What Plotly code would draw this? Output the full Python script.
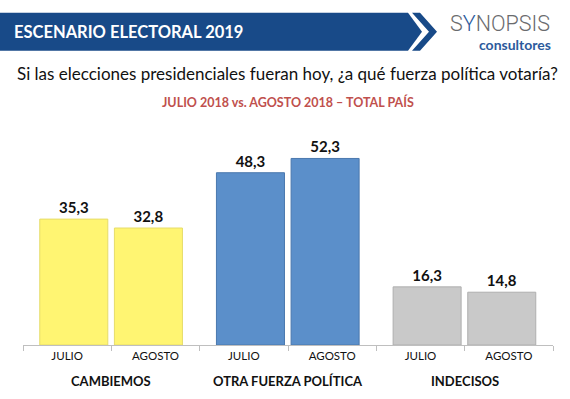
import plotly.graph_objects as go

parties = ["CAMBIEMOS", "OTRA FUERZA POLÍTICA", "INDECISOS"]
months = ["JULIO", "AGOSTO"]
julio = [35.3, 48.3, 16.3]
agosto = [32.8, 52.3, 14.8]
colors = ["#FFF572", "#5B8FCA", "#C9C9C9"]
borders = ["#E6DC6A", "#4A78AE", "#AFAFAF"]

W, H = 570, 399
L, R, T, B = 23, 17, 130.5, 54
PW, PH = W - L - R, H - T - B

def px(x):
    return (x - L) / PW

def py(y):
    return (H - B - y) / PH

FONT = "Lato"

# outer level uses blank keys; party names are drawn as centred annotations
group_keys = [" " * (i + 1) for i in range(len(parties))]

fig = go.Figure()
for vals, month, off in [(julio, months[0], -0.31), (agosto, months[1], -0.465)]:
    fig.add_trace(go.Bar(
        x=[group_keys, [month] * len(parties)],
        y=vals,
        marker=dict(color=colors, line=dict(color=borders, width=1)),
        offset=off, width=0.77,
        texttemplate="<b>%{y:.1f}</b>", textposition="outside",
        textfont=dict(family=FONT, size=15, color="#111111"),
        cliponaxis=False, showlegend=False, hoverinfo="skip",
    ))

band = "M {0},{1} L {2},{1} L {3},{4} L {2},{5} L {0},{5} Z".format(
    px(0), py(12), px(408), px(422), py(31), py(50))
chev = "M {0},{1} L {2},{1} L {3},{4} L {2},{5} L {0},{5} L {6},{4} Z".format(
    px(412), py(12), px(420), px(437), py(31), py(50), px(429))

shapes = [
    dict(type="path", path=band, xref="paper", yref="paper",
         fillcolor="#184A88", line=dict(width=0)),
    dict(type="path", path=chev, xref="paper", yref="paper",
         fillcolor="#184A88", line=dict(width=0)),
]

annotations = [
    dict(text="<b>ESCENARIO ELECTORAL 2019</b>", x=px(12), y=py(31),
         xanchor="left", yanchor="middle",
         font=dict(family=FONT, size=16.5, color="white")),
    dict(text="S<span style='color:#2C5A9C'>Y</span>NOPSIS", x=px(500), y=py(23),
         xanchor="center", yanchor="middle",
         font=dict(family="Roboto", size=21.5, color="#6A6B6E", weight=300)),
    dict(text="<b>consultores</b>", x=px(515), y=py(44),
         xanchor="center", yanchor="middle",
         font=dict(family=FONT, size=14, color="#2C5A9C")),
    dict(text="Si las elecciones presidenciales fueran hoy, ¿a qué fuerza política votaría?",
         x=px(287), y=py(73), xanchor="center", yanchor="middle",
         font=dict(family=FONT, size=17, color="#111111")),
    dict(text="<b>JULIO 2018 vs. AGOSTO 2018 – TOTAL PAÍS</b>",
         x=px(288), y=py(101), xanchor="center", yanchor="middle",
         font=dict(family=FONT, size=12.5, color="#C0504D")),
]
n = len(parties)
for i, p in enumerate(parties):
    annotations.append(dict(text="<b>" + p + "</b>", x=(i + 0.5) / n, y=py(381),
                            xanchor="center", yanchor="middle",
                            font=dict(family=FONT, size=13, color="#111111")))
for a in annotations:
    a.update(xref="paper", yref="paper", showarrow=False)

fig.update_layout(
    width=W, height=H,
    margin=dict(l=L, r=R, t=T, b=B, pad=0),
    paper_bgcolor="white", plot_bgcolor="white",
    barmode="overlay",
    separators=",.",
    shapes=shapes, annotations=annotations,
    xaxis=dict(type="multicategory", showline=True, linecolor="#BFBFBF",
               ticks="outside", tickson="boundaries", ticklen=5,
               tickcolor="#BFBFBF", showdividers=False,
               tickfont=dict(family=FONT, size=11.5, color="#111111"),
               showgrid=False),
    yaxis=dict(range=[0, 60], visible=False, showgrid=False),
)

fig.write_html("out.html", config={"displayModeBar": False},
               post_script="document.body.style.margin='0px';")
